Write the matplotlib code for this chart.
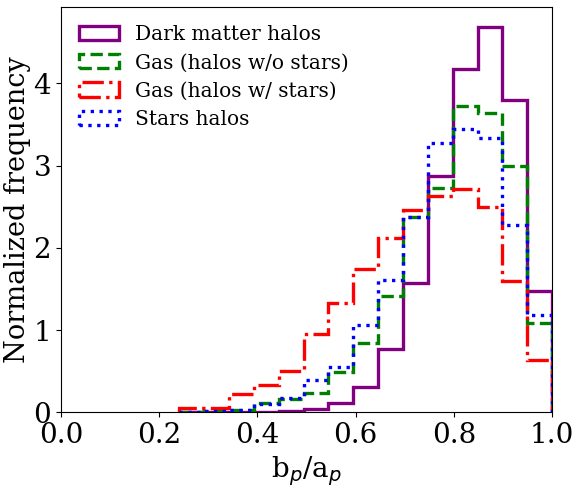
import numpy as np
import matplotlib.pyplot as plt

plt.rcParams['font.family'] = 'serif'
plt.rcParams['font.serif'] = ['DejaVu Serif']

# histogram bins (15 bins from data min to max)
bin_lo, bin_hi, n_bins = 0.241, 1.0, 15

dm_halos = [0.003, 0.003, 0.003, 0.005, 0.02, 0.04, 0.12, 0.31, 0.77, 1.57, 2.88, 4.17, 4.69, 3.80, 1.48]
gas_no_stars = [0.01, 0.02, 0.03, 0.11, 0.17, 0.24, 0.49, 0.84, 1.42, 2.38, 2.73, 3.73, 3.64, 3.00, 1.09]
gas_stars = [0.05, 0.05, 0.22, 0.33, 0.50, 0.95, 1.33, 1.75, 2.12, 2.46, 2.63, 2.72, 2.50, 1.60, 0.64]
stars = [0.01, 0.02, 0.03, 0.10, 0.18, 0.40, 0.55, 1.06, 1.61, 2.38, 3.28, 3.45, 3.33, 2.28, 1.18]

labels = ['Dark matter halos', 'Gas (halos w/o stars)', 'Gas (halos w/ stars)', 'Stars halos']
series = [dm_halos, gas_no_stars, gas_stars, stars]
colors = ['purple', 'green', 'red', 'blue']
styles = ['-', '--', '-.', ':']

edges = np.linspace(bin_lo, bin_hi, n_bins + 1)
centers = 0.5 * (edges[:-1] + edges[1:])

fig = plt.figure(figsize=(5.8, 4.87), dpi=100)
ax = fig.add_axes([0.105, 0.153, 0.847, 0.832])

for vals, lab, c, ls in zip(series, labels, colors, styles):
    ax.hist(centers, bins=edges, weights=vals, histtype='step',
            color=c, linestyle=ls, linewidth=2.4, label=lab)

ax.set_xlim(0, 1)
ax.set_xlabel(r'b$_p$/a$_p$', fontsize=20)
ax.set_ylabel('Normalized frequency', fontsize=19.5, labelpad=2)
ax.tick_params(labelsize=20)
ax.legend(loc='upper left', frameon=False, fontsize=14.5, labelspacing=0.45)

fig.savefig('out.png', dpi=100)
